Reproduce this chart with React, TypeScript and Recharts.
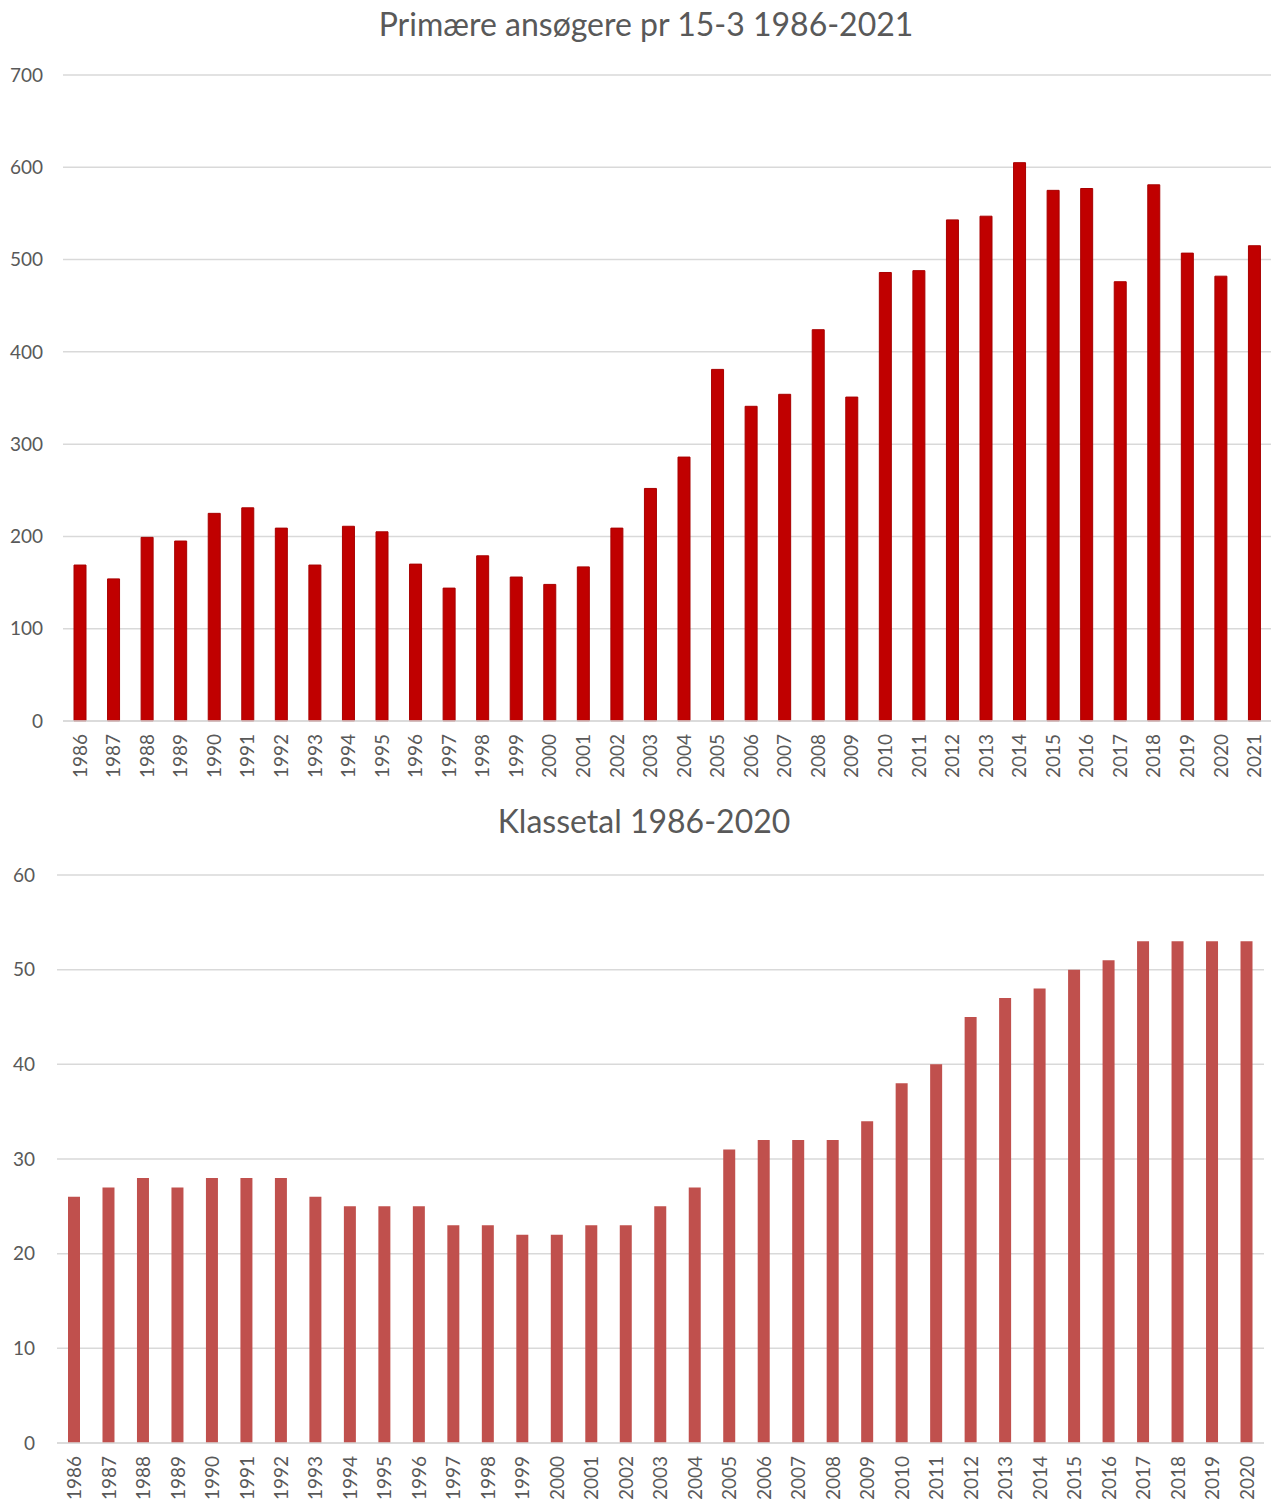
import React from 'react'
import { BarChart, Bar, XAxis, YAxis, CartesianGrid } from 'recharts'

// år på x-aksen
const yearsApplicants = [
  '1986', '1987', '1988', '1989', '1990', '1991', '1992', '1993', '1994', '1995', '1996', '1997',
  '1998', '1999', '2000', '2001', '2002', '2003', '2004', '2005', '2006', '2007', '2008', '2009',
  '2010', '2011', '2012', '2013', '2014', '2015', '2016', '2017', '2018', '2019', '2020', '2021',
]
const applicants = [
  169, 154, 199, 195, 225, 231, 209, 169, 211, 205, 170, 144,
  179, 156, 148, 167, 209, 252, 286, 381, 341, 354, 424, 351,
  486, 488, 543, 547, 605, 575, 577, 476, 581, 507, 482, 515,
]
const applicantTicks = [0, 100, 200, 300, 400, 500, 600, 700]

const yearsClasses = [
  '1986', '1987', '1988', '1989', '1990', '1991', '1992', '1993', '1994', '1995', '1996', '1997',
  '1998', '1999', '2000', '2001', '2002', '2003', '2004', '2005', '2006', '2007', '2008', '2009',
  '2010', '2011', '2012', '2013', '2014', '2015', '2016', '2017', '2018', '2019', '2020',
]
const classes = [
  26, 27, 28, 27, 28, 28, 28, 26, 25, 25, 25, 23,
  23, 22, 22, 23, 23, 25, 27, 31, 32, 32, 32, 34,
  38, 40, 45, 47, 48, 50, 51, 53, 53, 53, 53,
]
const classTicks = [0, 10, 20, 30, 40, 50, 60]

const FONT = 'Lato, "Noto Sans", sans-serif'
const TEXT = '#595959'
const GRID = '#d9d9d9'

const topData = yearsApplicants.map((year, i) => ({ year, value: applicants[i] }))
const bottomData = yearsClasses.map((year, i) => ({ year, value: classes[i] }))

// lodrette årstal under søjlerne
const YearTick = (props: any) => {
  const { x, y, payload } = props
  return (
    <g transform={`translate(${x},${y + 13})`}>
      <text transform="rotate(-90)" textAnchor="end" dy="0.36em" fill={TEXT} fontSize={19} fontFamily={FONT}>
        {payload.value}
      </text>
    </g>
  )
}

const App = () => {
  return (
    <div style={{ position: 'absolute', left: 0, top: 0, width: 1273, height: 1506, background: '#fff', fontFamily: FONT }}>
      <div style={{ position: 'absolute', left: 0, top: 4, width: 1292, textAlign: 'center', fontSize: 32, color: TEXT }}>
        Primære ansøgere pr 15-3 1986-2021
      </div>
      <div style={{ position: 'absolute', left: 0, top: 0 }}>
        <BarChart width={1273} height={790} data={topData} margin={{ top: 75, right: 2, left: 0, bottom: 0 }}>
          <CartesianGrid vertical={false} stroke={GRID} strokeWidth={1.5} />
          <XAxis dataKey="year" height={69} tickLine={false} axisLine={{ stroke: GRID, strokeWidth: 1.5 }}
            tickSize={0} tickMargin={0} interval={0} tick={<YearTick />} />
          <YAxis width={63} domain={[0, 700]} ticks={applicantTicks} axisLine={false} tickLine={false}
            tickSize={0} tickMargin={20} tick={{ fill: TEXT, fontSize: 19, fontFamily: FONT }} />
          <Bar dataKey="value" fill="#c00000" stroke="#a80000" strokeWidth={1} barSize={12} isAnimationActive={false} />
        </BarChart>
      </div>
      <div style={{ position: 'absolute', left: 0, top: 801, width: 1288, textAlign: 'center', fontSize: 32, color: TEXT }}>
        Klassetal 1986-2020
      </div>
      <div style={{ position: 'absolute', left: 0, top: 790 }}>
        <BarChart width={1273} height={716} data={bottomData} margin={{ top: 85, right: 9, left: 0, bottom: 0 }}>
          <CartesianGrid vertical={false} stroke={GRID} strokeWidth={1.5} />
          <XAxis dataKey="year" height={63} tickLine={false} axisLine={{ stroke: GRID, strokeWidth: 1.5 }}
            tickSize={0} tickMargin={0} interval={0} tick={<YearTick />} />
          <YAxis width={57} domain={[0, 60]} ticks={classTicks} axisLine={false} tickLine={false}
            tickSize={0} tickMargin={22} tick={{ fill: TEXT, fontSize: 19, fontFamily: FONT }} />
          <Bar dataKey="value" fill="#c0504d" barSize={12} isAnimationActive={false} />
        </BarChart>
      </div>
    </div>
  )
}

export default App
